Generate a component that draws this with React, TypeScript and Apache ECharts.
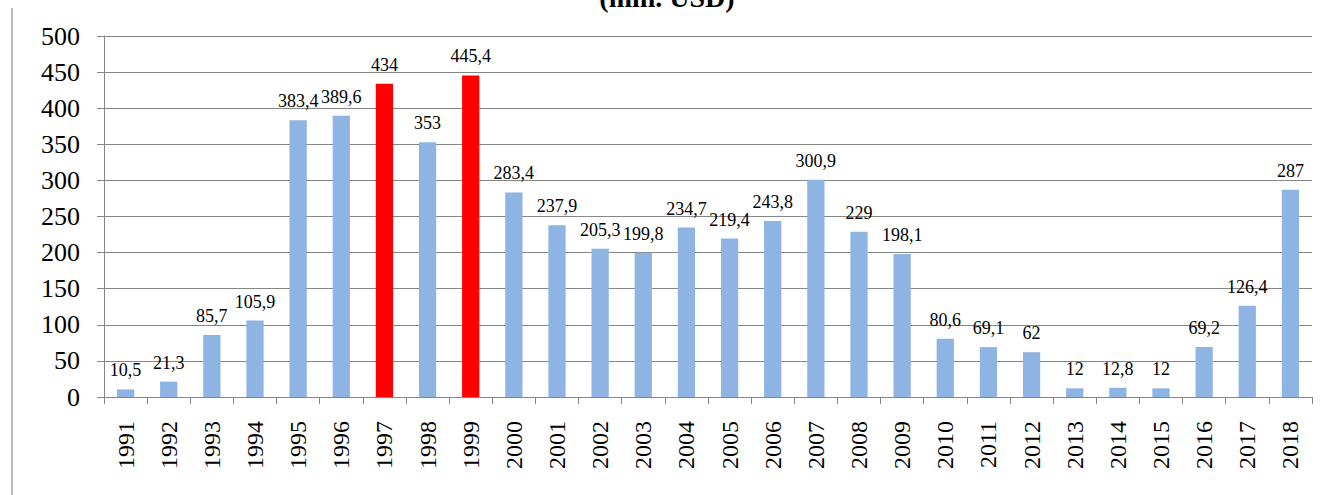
import React, { useEffect, useRef } from "react";
import * as echarts from "echarts";

const years = ["1991","1992","1993","1994","1995","1996","1997","1998","1999","2000","2001","2002","2003","2004","2005","2006","2007","2008","2009","2010","2011","2012","2013","2014","2015","2016","2017","2018"];
const values = [10.5, 21.3, 85.7, 105.9, 383.4, 389.6, 434, 353, 445.4, 283.4, 237.9, 205.3, 199.8, 234.7, 219.4, 243.8, 300.9, 229, 198.1, 80.6, 69.1, 62, 12, 12.8, 12, 69.2, 126.4, 287];
const highlighted = ["1997", "1999"];
const yTicks = { min: 0, max: 500, interval: 50 };
const titleText = "(mln. USD)";

const BLUE = "#8EB4E3";
const RED = "#FF0000";
const GRID = "#868686";
const FONT = "'Liberation Serif', 'Times New Roman', serif";

export default function App() {
  const ref = useRef<HTMLDivElement>(null);
  useEffect(() => {
    if (!ref.current) return;
    const chart = echarts.init(ref.current, undefined, { renderer: "svg" });
    chart.setOption({
      animation: false,
      backgroundColor: "#ffffff",
      grid: { left: 104, right: 15, top: 36, bottom: 98, containLabel: false },
      graphic: [
        {
          type: "line",
          shape: { x1: 12, y1: 8, x2: 12, y2: 495 },
          style: { stroke: "#a6a6a6", lineWidth: 1.5 },
        },
        {
          type: "text",
          x: 667,
          y: 11,
          style: {
            text: titleText,
            fontFamily: FONT,
            fontWeight: "bold",
            fontSize: 28,
            fill: "#000",
            align: "center",
            verticalAlign: "bottom",
          },
        },
      ],
      xAxis: {
        type: "category",
        data: years,
        boundaryGap: true,
        axisLine: { show: true, lineStyle: { color: GRID, width: 1 } },
        axisTick: { show: true, alignWithLabel: false, length: 7, lineStyle: { color: GRID } },
        axisLabel: {
          rotate: 90,
          interval: 0,
          margin: 24,
          color: "#000",
          fontFamily: FONT,
          fontSize: 24,
        },
      },
      yAxis: {
        type: "value",
        min: yTicks.min,
        max: yTicks.max,
        interval: yTicks.interval,
        axisLine: { show: true, lineStyle: { color: GRID, width: 1 } },
        axisTick: { show: true, length: 7, lineStyle: { color: GRID } },
        splitLine: { show: true, lineStyle: { color: GRID, width: 1 } },
        axisLabel: {
          margin: 24,
          color: "#000",
          fontFamily: FONT,
          fontSize: 26,
        },
      },
      series: [
        {
          type: "bar",
          barWidth: "40%",
          data: years.map((y, i) => ({
            value: values[i],
            itemStyle: { color: highlighted.includes(y) ? RED : BLUE },
          })),
          label: {
            show: true,
            position: "top",
            distance: 10,
            color: "#000",
            fontFamily: FONT,
            fontSize: 18,
            formatter: (p: any) => String(p.value).replace(".", ","),
          },
        },
      ],
    });
    return () => chart.dispose();
  }, []);
  return (
    <div
      ref={ref}
      style={{ position: "fixed", left: 0, top: 0, width: 1327, height: 495 }}
    />
  );
}
